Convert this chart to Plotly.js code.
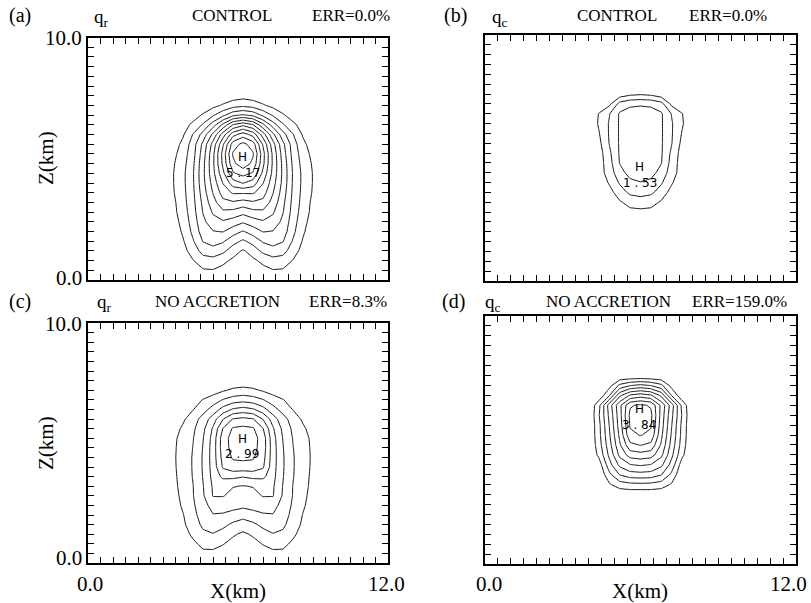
<!DOCTYPE html>
<html><head><meta charset="utf-8">
<script src="https://cdn.plot.ly/plotly-3.0.1.min.js"></script>
<style>html,body{margin:0;padding:0;background:#fff}#chart{width:811px;height:603px}</style>
</head><body><div id="chart"></div>
<script>
// ---- grids (km) ----
const xGridAC = [3.0,3.4,3.8,4.2,4.6,5.0,5.4,5.8,6.2,6.6,7.0,7.4,7.8,8.2,8.6,9.0,9.4];
const zGridAC = [0.0,0.4,0.8,1.2,1.6,2.0,2.4,2.8,3.2,3.6,4.0,4.4,4.8,5.2,5.6,6.0,6.4,6.8,7.2,7.6,8.0];
const xGridBD = [3.6,4.0,4.4,4.8,5.2,5.6,6.0,6.4,6.8,7.2,7.6,8.0,8.4];
const zGridBD = [2.0,2.4,2.8,3.2,3.6,4.0,4.4,4.8,5.2,5.6,6.0,6.4,6.8,7.2,7.6,8.0];

// (a) q_r CONTROL, max 5.17
const qrControl = [
[0,0,0,0.1,0.2,0.2,0.15,0.08,0.05,0.08,0.15,0.2,0.2,0.1,0,0,0],
[0,0,0.05,0.2,0.36,0.38,0.28,0.15,0.1,0.15,0.28,0.38,0.36,0.2,0.05,0,0],
[0,0,0.12,0.38,0.62,0.65,0.5,0.32,0.22,0.32,0.5,0.65,0.62,0.38,0.12,0,0],
[0,0.05,0.26,0.58,0.95,1.05,0.9,0.58,0.35,0.58,0.9,1.05,0.95,0.58,0.26,0.05,0],
[0,0.1,0.36,0.76,1.22,1.35,1.25,0.95,0.73,0.95,1.25,1.35,1.22,0.76,0.36,0.1,0],
[0,0.15,0.46,0.9,1.4,1.58,1.62,1.38,1.17,1.38,1.62,1.58,1.4,0.9,0.46,0.15,0],
[0,0.22,0.53,0.98,1.5,1.85,1.95,1.82,1.65,1.82,1.95,1.85,1.5,0.98,0.53,0.22,0],
[0,0.28,0.6,1.04,1.62,2.05,2.32,2.28,2.12,2.28,2.32,2.05,1.62,1.04,0.6,0.28,0],
[0.03,0.3,0.65,1.08,1.7,2.25,2.68,2.75,2.65,2.75,2.68,2.25,1.7,1.08,0.65,0.3,0.03],
[0.05,0.36,0.68,1.12,1.8,2.42,2.98,3.25,3.25,3.25,2.98,2.42,1.8,1.12,0.68,0.36,0.05],
[0.05,0.38,0.7,1.15,1.88,2.56,3.22,3.82,4.02,3.82,3.22,2.56,1.88,1.15,0.7,0.38,0.05],
[0.05,0.38,0.7,1.16,1.9,2.68,3.5,4.35,4.55,4.35,3.5,2.68,1.9,1.16,0.7,0.38,0.05],
[0.05,0.35,0.65,1.12,1.88,2.72,3.7,4.7,5.05,4.7,3.7,2.72,1.88,1.12,0.65,0.35,0.05],
[0,0.28,0.6,1.05,1.8,2.7,3.75,4.85,5.17,4.85,3.75,2.7,1.8,1.05,0.6,0.28,0],
[0,0.2,0.5,1.0,1.7,2.55,3.55,4.6,4.92,4.6,3.55,2.55,1.7,1.0,0.5,0.2,0],
[0,0.1,0.35,0.82,1.35,2.1,3.0,3.85,4.2,3.85,3.0,2.1,1.35,0.82,0.35,0.1,0],
[0,0.05,0.22,0.5,0.85,1.4,2.1,2.82,3.1,2.82,2.1,1.4,0.85,0.5,0.22,0.05,0],
[0,0,0.05,0.2,0.45,0.75,1.1,1.5,1.65,1.5,1.1,0.75,0.45,0.2,0.05,0,0],
[0,0,0,0,0.12,0.28,0.45,0.62,0.7,0.62,0.45,0.28,0.12,0,0,0,0],
[0,0,0,0,0,0,0.1,0.2,0.25,0.2,0.1,0,0,0,0,0,0],
[0,0,0,0,0,0,0,0,0,0,0,0,0,0,0,0,0]
];

// (c) q_r NO ACCRETION, max 2.99
const qrNoAcc = [
[0,0,0,0.08,0.15,0.15,0.12,0.07,0.05,0.07,0.12,0.15,0.15,0.08,0,0,0],
[0,0,0.05,0.2,0.32,0.32,0.25,0.15,0.1,0.15,0.25,0.32,0.32,0.2,0.05,0,0],
[0,0,0.12,0.32,0.5,0.52,0.42,0.28,0.2,0.28,0.42,0.52,0.5,0.32,0.12,0,0],
[0,0.05,0.24,0.48,0.72,0.78,0.65,0.45,0.33,0.45,0.65,0.78,0.72,0.48,0.24,0.05,0],
[0,0.1,0.33,0.6,0.88,1.0,0.9,0.72,0.6,0.72,0.9,1.0,0.88,0.6,0.33,0.1,0],
[0,0.15,0.38,0.68,0.98,1.18,1.15,1.05,0.95,1.05,1.15,1.18,0.98,0.68,0.38,0.15,0],
[0,0.2,0.46,0.74,1.05,1.35,1.4,1.35,1.3,1.35,1.4,1.35,1.05,0.74,0.46,0.2,0],
[0,0.25,0.5,0.78,1.15,1.62,1.62,1.48,1.42,1.48,1.62,1.62,1.15,0.78,0.5,0.25,0],
[0,0.28,0.54,0.79,1.18,1.65,1.68,1.62,1.58,1.62,1.68,1.65,1.18,0.79,0.54,0.28,0],
[0,0.3,0.56,0.82,1.22,1.72,2.1,2.1,2.02,2.1,2.1,1.72,1.22,0.82,0.56,0.3,0],
[0.02,0.32,0.58,0.83,1.24,1.76,2.45,2.65,2.65,2.65,2.45,1.76,1.24,0.83,0.58,0.32,0.02],
[0.03,0.33,0.58,0.83,1.24,1.78,2.55,2.85,2.88,2.85,2.55,1.78,1.24,0.83,0.58,0.33,0.03],
[0.02,0.32,0.57,0.81,1.22,1.78,2.62,2.93,2.97,2.93,2.62,1.78,1.22,0.81,0.57,0.32,0.02],
[0,0.3,0.55,0.78,1.18,1.75,2.62,2.96,2.99,2.96,2.62,1.75,1.18,0.78,0.55,0.3,0],
[0,0.22,0.47,0.72,1.1,1.65,2.42,2.85,2.9,2.85,2.42,1.65,1.1,0.72,0.47,0.22,0],
[0,0.1,0.33,0.62,0.95,1.4,1.98,2.42,2.5,2.42,1.98,1.4,0.95,0.62,0.33,0.1,0],
[0,0,0.15,0.38,0.65,0.95,1.35,1.65,1.75,1.65,1.35,0.95,0.65,0.38,0.15,0,0],
[0,0,0.05,0.2,0.42,0.6,0.82,0.98,1.05,0.98,0.82,0.6,0.42,0.2,0.05,0,0],
[0,0,0,0,0.08,0.2,0.35,0.47,0.52,0.47,0.35,0.2,0.08,0,0,0,0],
[0,0,0,0,0,0,0.05,0.12,0.15,0.12,0.05,0,0,0,0,0,0],
[0,0,0,0,0,0,0,0,0,0,0,0,0,0,0,0,0]
];

// (b) q_c CONTROL, max 1.53
const qcControl = [
[0,0,0,0,0,0,0,0,0,0,0,0,0],
[0,0,0,0,0,0.05,0.05,0.05,0,0,0,0,0],
[0,0,0,0,0.15,0.28,0.3,0.28,0.15,0,0,0,0],
[0,0,0,0.08,0.35,0.55,0.6,0.55,0.35,0.08,0,0,0],
[0,0,0,0.25,0.62,0.88,0.95,0.88,0.62,0.25,0,0,0],
[0,0,0.1,0.45,0.85,1.1,1.18,1.1,0.85,0.45,0.1,0,0],
[0,0,0.2,0.6,1.05,1.35,1.45,1.35,1.05,0.6,0.2,0,0],
[0,0,0.2,0.65,1.22,1.45,1.53,1.45,1.22,0.65,0.2,0,0],
[0,0.03,0.22,0.72,1.25,1.45,1.5,1.45,1.25,0.72,0.22,0.03,0],
[0,0.05,0.3,0.82,1.25,1.42,1.45,1.42,1.25,0.82,0.3,0.05,0],
[0,0.08,0.38,0.84,1.25,1.4,1.42,1.4,1.25,0.84,0.38,0.08,0],
[0,0.1,0.45,0.84,1.25,1.38,1.4,1.38,1.25,0.84,0.45,0.1,0],
[0,0.1,0.42,0.78,1.25,1.36,1.38,1.36,1.25,0.78,0.42,0.1,0],
[0,0,0.1,0.3,0.95,1.12,1.15,1.12,0.95,0.3,0.1,0,0],
[0,0,0,0.05,0.15,0.3,0.35,0.3,0.15,0.05,0,0,0],
[0,0,0,0,0,0,0,0,0,0,0,0,0]
];

// (d) q_c NO ACCRETION, max 3.84
const qcNoAcc = [
[0,0,0,0,0,0,0,0,0,0,0,0,0],
[0,0,0,0,0,0,0,0,0,0,0,0,0],
[0,0,0,0.02,0.1,0.12,0.1,0.12,0.1,0.02,0,0,0],
[0,0,0,0.35,0.6,0.68,0.7,0.68,0.6,0.35,0,0,0],
[0,0,0.05,0.7,1.22,1.42,1.45,1.42,1.22,0.7,0.05,0,0],
[0,0,0.2,1.05,1.7,1.98,2.05,1.98,1.7,1.05,0.2,0,0],
[0,0,0.5,1.3,2.1,2.58,2.65,2.58,2.1,1.3,0.5,0,0],
[0,0,0.62,1.45,2.35,3.1,3.22,3.1,2.35,1.45,0.62,0,0],
[0,0,0.68,1.55,2.5,3.5,3.62,3.5,2.5,1.55,0.68,0,0],
[0,0,0.7,1.62,2.6,3.65,3.75,3.65,2.6,1.62,0.7,0,0],
[0,0,0.78,1.7,2.65,3.7,3.83,3.7,2.65,1.7,0.78,0,0],
[0,0,0.7,1.8,2.7,3.55,3.68,3.55,2.7,1.8,0.7,0,0],
[0,0,0.1,0.78,1.9,2.45,2.6,2.45,1.9,0.78,0.1,0,0],
[0,0,0,0.25,0.9,1.18,1.3,1.18,0.9,0.25,0,0,0],
[0,0,0,0,0,0,0,0,0,0,0,0,0],
[0,0,0,0,0,0,0,0,0,0,0,0,0]
];

const maxLabels = ["5 . 17", "1 . 53", "2 . 99", "3 . 84"];
const maxPos = [[6.18,5.06,4.42],[5.98,4.62,3.98],[6.17,5.17,4.53],[5.96,6.25,5.62]];
const levelTop = [4.8, 1.2, 2.8, 3.6];
const panelTags = ["(a)","(b)","(c)","(d)"];
const panelVars = ["q<sub>r</sub>","q<sub>c</sub>","q<sub>r</sub>","q<sub>c</sub>"];
const panelRuns = ["CONTROL","CONTROL","NO ACCRETION","NO ACCRETION"];
const panelErr = ["ERR=0.0%","ERR=0.0%","ERR=8.3%","ERR=159.0%"];
const xTickText = ["0.0","12.0"];
const yTickText = ["0.0","10.0"];

// ---- layout geometry (px) ----
const W = 811, H = 603;
const frames = [ // [left,right,top,bottom]
  [88,388,37.5,280],
  [485,796,35,281],
  [88,388,323,563],
  [485,796,316,564]
];
const headerY = [16,16,301,301];
const tagX = [20,455,20,453];
const varX = [92,490,95,483];
const runX = [232,617,217,608];
const errX = [351,728,348,739];

const serif = "Liberation Serif, Times New Roman, serif";
const xt = []; for (let i=0;i<=24;i++) xt.push(i*0.5);
const yt = []; for (let i=0;i<=25;i++) yt.push(+(i*0.4).toFixed(1));

const fields = [qrControl, qcControl, qrNoAcc, qcNoAcc];
const xs = [xGridAC, xGridBD, xGridAC, xGridBD];
const zs = [zGridAC, zGridBD, zGridAC, zGridBD];

const traces = [];
const layout = {
  width: W, height: H, margin:{l:0,r:0,t:0,b:0},
  paper_bgcolor:'#fff', plot_bgcolor:'#fff', showlegend:false,
  annotations: []
};
const px2x = p => p/W, px2y = p => 1 - p/H;
function txt(x, y, text, size, xanchor, extra){
  layout.annotations.push(Object.assign({xref:'paper', yref:'paper', x:px2x(x), y:px2y(y), text:text,
    xanchor:xanchor||'center', yanchor:'middle', showarrow:false,
    font:{family:serif, size:size, color:'#000'}}, extra||{}));
}

for (let k=0;k<4;k++){
  const s = k===0 ? '' : String(k+1);
  traces.push({
    type:'contour', x: xs[k], y: zs[k], z: fields[k],
    xaxis:'x'+s, yaxis:'y'+s,
    autocontour:false,
    contours:{coloring:'none', start:0.4, end:levelTop[k], size:0.4, showlabels:false},
    line:{color:'#111', width:1, smoothing:0},
    showscale:false, hoverinfo:'skip'
  });
  const f = frames[k];
  const common = {showline:true, linecolor:'#000', linewidth:1.6, mirror:'allticks',
    ticks:'inside', ticklen:6, tickwidth:1, tickcolor:'#000', tickmode:'array',
    showticklabels:false, showgrid:false, zeroline:false, fixedrange:true};
  layout['xaxis'+s] = Object.assign({domain:[f[0]/W, f[1]/W], anchor:'y'+s, range:[0,12], tickvals:xt}, common);
  layout['yaxis'+s] = Object.assign({domain:[1-f[3]/H, 1-f[2]/H], anchor:'x'+s, range:[0,10], tickvals:yt}, common);
  // H and max label
  layout.annotations.push({xref:'x'+s, yref:'y'+s, x:maxPos[k][0], y:maxPos[k][1], text:'H',
    showarrow:false, font:{family:'DejaVu Sans, sans-serif', size:12, color:'#000'}});
  layout.annotations.push({xref:'x'+s, yref:'y'+s, x:maxPos[k][0], y:maxPos[k][2], text:maxLabels[k],
    showarrow:false, font:{family:'DejaVu Sans, sans-serif', size:12, color:'#000'}});
  // header
  txt(tagX[k], headerY[k], panelTags[k], 20);
  txt(varX[k], headerY[k]+2, panelVars[k], 19, 'left');
  txt(runX[k], headerY[k], panelRuns[k], 17);
  txt(errX[k], headerY[k], panelErr[k], 17);
}
// tick labels
txt(84, 38, yTickText[1], 21, 'right');
txt(84, 278, yTickText[0], 21, 'right');
txt(84, 324, yTickText[1], 21, 'right');
txt(84, 558, yTickText[0], 21, 'right');
txt(90, 584, xTickText[0], 21);
txt(386, 584, xTickText[1], 21);
txt(489, 584, xTickText[0], 21);
txt(809, 584, xTickText[1], 21, 'right');
// axis titles
txt(46, 158, 'Z(km)', 21, 'center', {textangle:-90});
txt(46, 443, 'Z(km)', 21, 'center', {textangle:-90});
txt(238, 591, 'X(km)', 21);
txt(640, 591, 'X(km)', 21);

Plotly.newPlot('chart', traces, layout, {displayModeBar:false, staticPlot:true});
</script></body></html>
